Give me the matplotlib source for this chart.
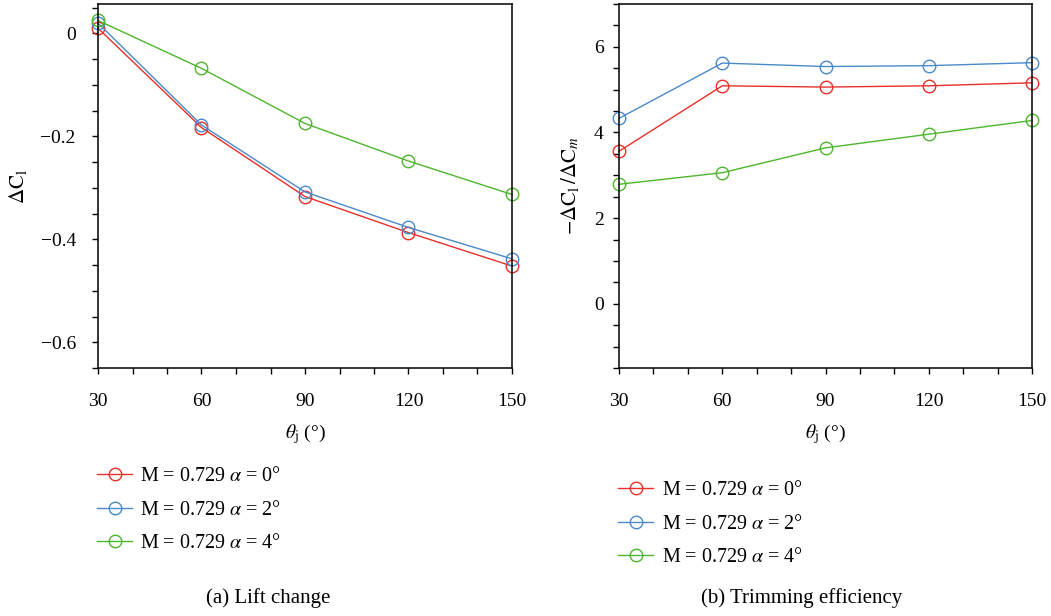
import matplotlib.pyplot as plt
from matplotlib.ticker import MultipleLocator

plt.rcParams['font.family'] = ['Liberation Serif', 'DejaVu Serif']
plt.rcParams['mathtext.fontset'] = 'stix'

theta = [30, 60, 90, 120, 150]

# (a) lift change
dcl_a0 = [0.010, -0.183, -0.317, -0.387, -0.452]
dcl_a2 = [0.020, -0.178, -0.308, -0.377, -0.438]
dcl_a4 = [0.025, -0.068, -0.175, -0.248, -0.313]

# (b) trimming efficiency
eff_a0 = [3.56, 5.09, 5.06, 5.09, 5.16]
eff_a2 = [4.33, 5.62, 5.54, 5.56, 5.63]
eff_a4 = [2.79, 3.06, 3.64, 3.96, 4.28]

labels = [r'M = 0.729 $\alpha$ = 0°', r'M = 0.729 $\alpha$ = 2°', r'M = 0.729 $\alpha$ = 4°']
colors = ['#e8302a', '#4a8acb', '#4db62c']

W, H = 1051, 616
fig = plt.figure(figsize=(W / 100, H / 100), dpi=100)
ax1 = fig.add_axes([98 / W, 1 - 368 / H, (512 - 98) / W, (368 - 4) / H])
ax2 = fig.add_axes([619 / W, 1 - 368 / H, (1032 - 619) / W, (368 - 4) / H])

fs = 14

def style(ax):
    ax.set_xlim(30, 150)
    ax.xaxis.set_major_locator(MultipleLocator(30))
    ax.xaxis.set_minor_locator(MultipleLocator(10))
    ax.tick_params(which='both', direction='out', length=4, width=1, labelsize=fs)
    ax.tick_params(axis='x', pad=14)
    for s in ax.spines.values():
        s.set_linewidth(1.1)
    ax.set_xlabel(r'$\theta_\mathrm{j}$ (°)', fontsize=fs, labelpad=9)

for ys, c, lab in zip([dcl_a0, dcl_a2, dcl_a4], colors, labels):
    ax1.plot(theta, ys, color=c, lw=1, marker='o', ms=9, mfc='none', mew=1, label=lab, clip_on=False)
style(ax1)
ax1.set_ylim(-0.65, 0.057)
ax1.yaxis.set_major_locator(MultipleLocator(0.2))
ax1.yaxis.set_minor_locator(MultipleLocator(0.05))
ax1.yaxis.set_major_formatter(plt.FuncFormatter(lambda v, p: '0' if abs(v) < 1e-9 else ('%.1f' % v).replace('-', '\u2212')))
ax1.tick_params(axis='y', pad=12)
ax1.set_ylabel(r'$\Delta\mathrm{C_l}$', fontsize=fs + 1, labelpad=8)

for ys, c, lab in zip([eff_a0, eff_a2, eff_a4], colors, labels):
    ax2.plot(theta, ys, color=c, lw=1, marker='o', ms=9, mfc='none', mew=1, label=lab, clip_on=False)
style(ax2)
ax2.set_ylim(-1.5, 7)
ax2.yaxis.set_major_locator(MultipleLocator(2))
ax2.yaxis.set_minor_locator(MultipleLocator(0.5))
ax2.tick_params(axis='y', pad=7)
ax2.set_ylabel(r'$-\Delta\mathrm{C_l}\,/\Delta\mathrm{C}_{m}$', fontsize=fs + 1, labelpad=9)

leg_kw = dict(frameon=False, fontsize=14.5, handlelength=1.74, handletextpad=0.42,
              labelspacing=0.72, borderpad=0, borderaxespad=0)
fig.legend(handles=ax1.get_lines(), loc='center left', bbox_to_anchor=(97 / W, 1 - 510 / H), **leg_kw)
fig.legend(handles=ax2.get_lines(), loc='center left', bbox_to_anchor=(618 / W, 1 - 524 / H), **leg_kw)

fig.text(268 / W, 1 - 598 / H, '(a) Lift change', ha='center', va='center', fontsize=15)
fig.text(802 / W, 1 - 598 / H, '(b) Trimming efficiency', ha='center', va='center', fontsize=15)

fig.savefig('out.png', dpi=100)
